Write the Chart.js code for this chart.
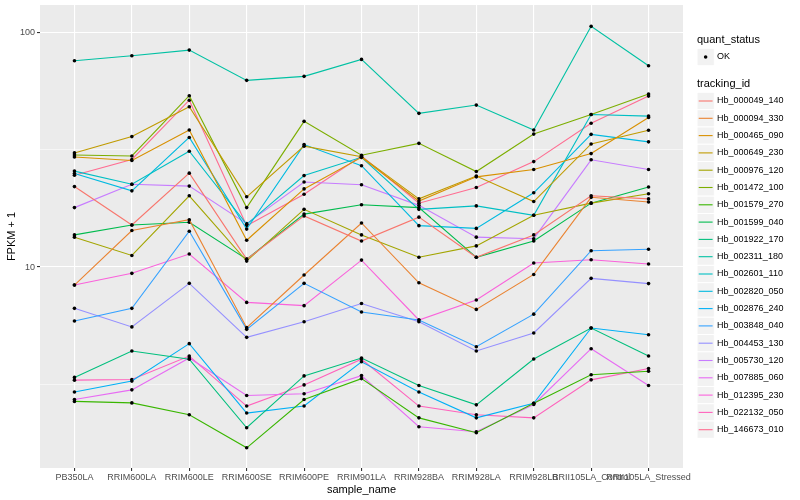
<!DOCTYPE html>
<html>
<head>
<meta charset="utf-8">
<script src="https://cdn.jsdelivr.net/npm/chart.js@4.4.0/dist/chart.umd.min.js"></script>
<style>
  html, body { margin: 0; padding: 0; background: #fff; }
</style>
</head>
<body>
<canvas id="myChart" width="800" height="500"></canvas>
<script>
const samples = ["PB350LA", "RRIM600LA", "RRIM600LE", "RRIM600SE", "RRIM600PE", "RRIM901LA",
  "RRIM928BA", "RRIM928LA", "RRIM928LB", "RRII105LA_Control", "RRII105LA_Stressed"];

const trackingIds = ["Hb_000049_140", "Hb_000094_330", "Hb_000465_090", "Hb_000649_230", "Hb_000976_120",
  "Hb_001472_100", "Hb_001579_270", "Hb_001599_040", "Hb_001922_170", "Hb_002311_180",
  "Hb_002601_110", "Hb_002820_050", "Hb_002876_240", "Hb_003848_040", "Hb_004453_130",
  "Hb_005730_120", "Hb_007885_060", "Hb_012395_230", "Hb_022132_050", "Hb_146673_010"];

const colors = ["#F8766D", "#EA8331", "#D89000", "#C09B00", "#A3A500", "#7CAE00", "#39B600", "#00BB4E",
  "#00BF7D", "#00C1A3", "#00BFC4", "#00BAE0", "#00B0F6", "#35A2FF", "#9590FF", "#C77CFF",
  "#E76BF3", "#FA62DB", "#FF62BC", "#FF6C91"];

// FPKM + 1, one array per tracking id, in sample order
const hb_000049_140 = [22.0, 15.1, 25.1, 10.8, 16.5, 12.9, 16.3, 11.0, 13.7, 20.1, 19.5];
const hb_000094_330 = [8.38, 14.3, 15.9, 5.52, 9.25, 15.4, 8.57, 6.6, 9.3, 19.8, 18.9];
const hb_000465_090 = [29.4, 28.4, 38.3, 13.0, 21.5, 29.3, 19.1, 24.2, 26.0, 30.4, 43.3];
const hb_000649_230 = [30.6, 35.9, 48.1, 19.9, 32.7, 29.5, 19.5, 24.4, 19.0, 33.4, 38.2];
const hb_000976_120 = [13.4, 11.2, 20.1, 10.6, 17.6, 13.7, 11.0, 12.3, 16.6, 18.7, 20.5];
const hb_001472_100 = [30.0, 29.7, 53.6, 17.9, 41.7, 29.9, 33.6, 25.5, 36.8, 44.6, 54.5];
const hb_001579_270 = [2.68, 2.64, 2.35, 1.70, 2.73, 3.35, 2.28, 1.97, 2.63, 3.48, 3.6];
const hb_001599_040 = [13.7, 15.1, 15.5, 10.8, 16.8, 18.4, 17.9, 11.0, 12.9, 18.7, 21.9];
const hb_001922_170 = [3.39, 4.39, 4.05, 2.07, 3.44, 4.1, 3.13, 2.59, 4.06, 5.50, 4.18];
const hb_002311_180 = [75.5, 79.3, 83.8, 62.3, 64.8, 76.5, 45.1, 48.9, 38.3, 105.8, 71.9];
const hb_002601_110 = [25.6, 22.5, 31.1, 15.2, 24.5, 29.3, 17.6, 18.2, 16.6, 44.6, 43.9];
const hb_002820_050 = [25.0, 21.1, 35.6, 14.5, 33.2, 27.0, 15.0, 14.6, 20.7, 36.7, 34.1];
const hb_002876_240 = [2.94, 3.27, 4.72, 2.39, 2.56, 3.95, 2.94, 2.28, 2.63, 5.50, 5.15];
const hb_003848_040 = [5.89, 6.67, 14.2, 5.43, 8.52, 6.44, 5.95, 4.58, 6.3, 11.73, 11.9];
const hb_004453_130 = [6.67, 5.56, 8.52, 5.02, 5.85, 6.99, 5.85, 4.39, 5.24, 8.95, 8.5];
const hb_005730_120 = [17.9, 22.5, 22.1, 15.3, 23.0, 22.4, 18.3, 13.4, 13.2, 28.6, 26.0];
const hb_007885_060 = [2.73, 3.0, 4.1, 2.84, 2.89, 3.45, 2.09, 1.99, 2.6, 4.49, 3.13];
const hb_012395_230 = [8.38, 9.4, 11.36, 7.07, 6.85, 10.7, 5.95, 7.24, 10.4, 10.74, 10.3];
const hb_022132_050 = [3.30, 3.32, 4.18, 2.56, 3.15, 4.05, 2.56, 2.35, 2.28, 3.31, 3.7];
const hb_146673_010 = [24.6, 28.7, 51.3, 15.0, 20.4, 29.7, 18.7, 21.8, 28.1, 40.9, 53.4];

const series = [hb_000049_140, hb_000094_330, hb_000465_090, hb_000649_230, hb_000976_120,
  hb_001472_100, hb_001579_270, hb_001599_040, hb_001922_170, hb_002311_180,
  hb_002601_110, hb_002820_050, hb_002876_240, hb_003848_040, hb_004453_130,
  hb_005730_120, hb_007885_060, hb_012395_230, hb_022132_050, hb_146673_010];

const yBreaks = [3.1623, 10, 31.623, 100];
const yMajor = [10, 100];

const FONT = '"Liberation Sans", Arial, Helvetica, sans-serif';

const panelBg = {
  id: "panelBg",
  beforeDraw(chart) {
    const a = chart.chartArea;
    const c = chart.ctx;
    c.save();
    c.fillStyle = "#EBEBEB";
    c.fillRect(a.left, a.top, a.right - a.left, a.bottom - a.top);
    c.restore();
  },
};

// ggplot style legend on the right
const ggLegend = {
  id: "ggLegend",
  afterDraw(chart) {
    const c = chart.ctx;
    const x0 = 697, keyW = 17.3, keyH = 17.3;
    c.save();
    c.textBaseline = "middle";
    c.textAlign = "left";
    c.fillStyle = "#000";
    c.font = "11px " + FONT;
    c.fillText("quant_status", x0, 40);
    c.fillStyle = "#F2F2F2";
    c.strokeStyle = "#fff";
    c.fillRect(x0, 57 - keyH / 2, keyW, keyH);
    c.strokeRect(x0, 57 - keyH / 2, keyW, keyH);
    c.fillStyle = "#000";
    c.beginPath();
    c.arc(x0 + keyW / 2, 57, 1.8, 0, Math.PI * 2);
    c.fill();
    c.font = "9px " + FONT;
    c.fillText("OK", x0 + 20, 57);
    c.font = "11px " + FONT;
    c.fillText("tracking_id", x0, 84);
    chart.data.datasets.forEach((ds, i) => {
      const y = 101 + i * keyH;
      c.fillStyle = "#F2F2F2";
      c.fillRect(x0, y - keyH / 2, keyW, keyH);
      c.strokeStyle = "#fff";
      c.lineWidth = 1;
      c.strokeRect(x0, y - keyH / 2, keyW, keyH);
      c.strokeStyle = ds.borderColor;
      c.lineWidth = 1.1;
      c.beginPath();
      c.moveTo(x0 + 1.7, y);
      c.lineTo(x0 + keyW - 1.7, y);
      c.stroke();
      c.fillStyle = "#000";
      c.font = "9px " + FONT;
      c.fillText(ds.label, x0 + 20, y);
    });
    c.restore();
  },
};

const ctx = document.getElementById("myChart");
const myChart = new Chart(ctx, {
  type: "line",
  data: {
    datasets: series.map((vals, i) => ({
      label: trackingIds[i],
      data: vals.map((v, j) => ({ x: j, y: v })),
      borderColor: colors[i],
      backgroundColor: colors[i],
      borderWidth: 1.1,
      pointRadius: 1.8,
      pointBackgroundColor: "#000",
      pointBorderWidth: 0,
      tension: 0,
      fill: false,
    })),
  },
  options: {
    responsive: false,
    animation: false,
    layout: { padding: { left: 0, top: 5, right: 117, bottom: 0 } },
    plugins: {
      legend: { display: false },
      tooltip: { enabled: false },
    },
    scales: {
      x: {
        type: "linear",
        min: -0.6,
        max: 10.6,
        afterBuildTicks: (scale) => {
          scale.ticks = samples.map((s, j) => ({ value: j }));
        },
        afterFit: (scale) => {
          scale.height = 32;
          scale.paddingLeft = 0;
          scale.paddingRight = 0;
        },
        ticks: {
          autoSkip: false,
          maxRotation: 0,
          minRotation: 0,
          padding: 1,
          color: "#4D4D4D",
          font: { family: FONT, size: 9 },
          callback: (v) => samples[v],
        },
        grid: { color: "#fff", lineWidth: 1.1, tickColor: "#333", tickLength: 3 },
        border: { display: false },
        title: {
          display: true,
          text: "sample_name",
          color: "#000",
          font: { family: FONT, size: 11 },
          padding: { top: 0, bottom: 3 },
        },
      },
      y: {
        type: "logarithmic",
        min: 1.395,
        max: 130.4,
        afterBuildTicks: (scale) => {
          scale.ticks = yBreaks.map((v) => ({ value: v, major: yMajor.includes(v) }));
        },
        afterFit: (scale) => {
          scale.width = 40;
          scale.paddingTop = 0;
          scale.paddingBottom = 0;
        },
        ticks: {
          autoSkip: false,
          padding: 2,
          color: "#4D4D4D",
          font: { family: FONT, size: 9 },
          callback: (v) => (yMajor.includes(v) ? String(v) : ""),
        },
        grid: {
          color: "#fff",
          lineWidth: (c) => (c.tick && yMajor.includes(c.tick.value) ? 1.1 : 0.55),
          tickColor: (c) => (c.tick && yMajor.includes(c.tick.value) ? "#333" : "rgba(0,0,0,0)"),
          tickLength: 3,
        },
        border: { display: false },
        title: {
          display: true,
          text: "FPKM + 1",
          color: "#000",
          font: { family: FONT, size: 11 },
          padding: { top: 5, bottom: 0 },
        },
      },
    },
  },
  plugins: [panelBg, ggLegend],
});
</script>
</body>
</html>
